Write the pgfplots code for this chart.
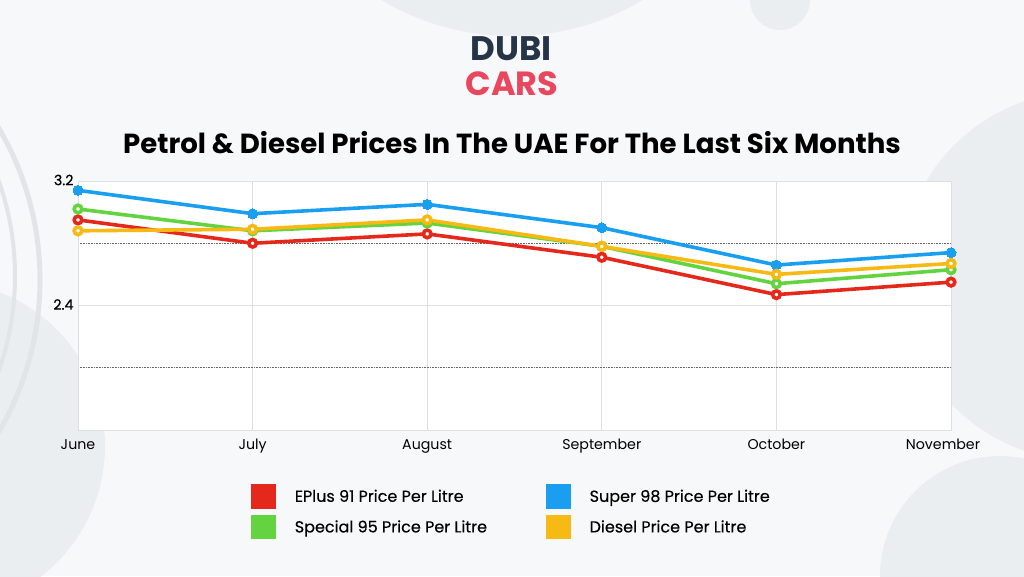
\documentclass[border=0pt]{standalone}
\usepackage{fontspec}
\setmainfont{Poppins}
\usepackage{pgfplots}
\pgfplotsset{compat=1.18}
\definecolor{cRed}{HTML}{E4281C}
\definecolor{cBlue}{HTML}{1A9FF0}
\definecolor{cGreen}{HTML}{63D43F}
\definecolor{cYellow}{HTML}{F7B914}
\definecolor{bgA}{HTML}{F7F8F9}
\definecolor{deco}{HTML}{EBEEF0}
\definecolor{decoLine}{HTML}{E2E5E7}
\definecolor{navy}{HTML}{263447}
\definecolor{pink}{HTML}{E8475E}
\definecolor{gridc}{HTML}{DDDFE1}
\begin{document}
\begin{tikzpicture}[x=1pt,y=1pt]
\useasboundingbox (0,0) rectangle (1024,576);
\begin{scope}
\clip (0,0) rectangle (1024,576);
\fill[bgA] (0,0) rectangle (1024,576);
\fill[deco] (512,795) circle (255);
\fill[deco] (-60,130) circle (165);
\fill[deco] (1085,300) circle (185);
\fill[deco] (780,576) circle (30);
\fill[deco] (930,60) circle (18);
\fill[deco] (1000,0) circle (120);
\draw[decoLine, line width=5] (-260,296) circle (300);
\draw[decoLine, line width=4] (-270,300) circle (285);
\draw[decoLine, line width=3] (-300,290) circle (290);
\end{scope}
\node[font=\fontsize{34}{36}\selectfont\bfseries, text=navy] at (511,527) {DUBI};
\node[font=\fontsize{33.5}{36}\selectfont\bfseries, text=pink] at (512,492) {CARS};
\node[font=\fontsize{27.6}{30}\selectfont\bfseries, text=black] at (512,433) {Petrol \& Diesel Prices In The UAE For The Last Six Months};
\begin{axis}[
  at={(78pt,146pt)}, anchor=south west,
  scale only axis, width=873pt, height=249pt,
  xmin=0, xmax=5, ymin=1.6, ymax=3.2,
  xtick={0,1,2,3,4,5},
  xticklabels={June,July,August,September,October,{\hspace*{-16pt}November}},
  ytick={1.6,2.4,3.2}, yticklabels={,2.4,3.2},
  minor ytick={2.0,2.8},
  xmajorgrids, ymajorgrids, yminorgrids,
  major grid style={gridc, line width=0.8pt},
  minor grid style={black!60, line width=0.6pt, densely dotted},
  major tick length=0pt, minor tick length=0pt,
  axis line style={gridc, line width=0.8pt},
  axis background/.style={fill=white},
  tick label style={font=\fontsize{14.2}{16}\selectfont, text=black},
  /pgf/number format/assume math mode=true,
  xticklabel style={anchor=base, yshift=-19pt},
  yticklabel style={xshift=-1pt, yshift=1pt, font=\fontsize{14.2}{16}\selectfont\addfontfeatures{FakeBold=0.6}},
  clip=false,
  legend columns=2, transpose legend,
  legend style={at={(170pt,-52pt)}, anchor=north west, draw=none, fill=none,
    font=\fontsize{16}{18}\selectfont\addfontfeatures{FakeBold=0.3}, row sep=6pt,
    /tikz/column 2/.style={column sep=56pt},
    nodes={inner xsep=3pt, inner ysep=2pt}},
  legend cell align=left,
  every axis plot/.append style={line width=3.6pt, mark=*},
]
\addplot[cRed, mark size=3.8pt, mark options={fill=white, draw=cRed, line width=3.6pt},
  legend image code/.code={\fill[cRed] (0pt,-10.5pt) rectangle (21.5pt,10.5pt);\path (37pt,0pt);}]
  coordinates {(0,2.95) (1,2.80) (2,2.86) (3,2.71) (4,2.47) (5,2.55)};
\addlegendentry{EPlus 91 Price Per Litre}
\addplot[cGreen, mark size=3.8pt, mark options={fill=white, draw=cGreen, line width=3.6pt},
  legend image code/.code={\fill[cGreen] (0pt,-10.5pt) rectangle (21.5pt,10.5pt);\path (37pt,0pt);}]
  coordinates {(0,3.02) (1,2.88) (2,2.93) (3,2.78) (4,2.54) (5,2.63)};
\addlegendentry{Special 95 Price Per Litre}
\addplot[cBlue, mark size=5pt, mark options={fill=cBlue, draw=cBlue, line width=0pt},
  legend image code/.code={\fill[cBlue] (0pt,-10.5pt) rectangle (21.5pt,10.5pt);\path (37pt,0pt);}]
  coordinates {(0,3.14) (1,2.99) (2,3.05) (3,2.90) (4,2.66) (5,2.74)};
\addlegendentry{Super 98 Price Per Litre}
\addplot[cYellow, mark size=3.8pt, mark options={fill=white, draw=cYellow, line width=3.6pt},
  legend image code/.code={\fill[cYellow] (0pt,-10.5pt) rectangle (21.5pt,10.5pt);\path (37pt,0pt);}]
  coordinates {(0,2.88) (1,2.89) (2,2.95) (3,2.78) (4,2.60) (5,2.67)};
\addlegendentry{Diesel Price Per Litre}
\end{axis}
\end{tikzpicture}
\end{document}
